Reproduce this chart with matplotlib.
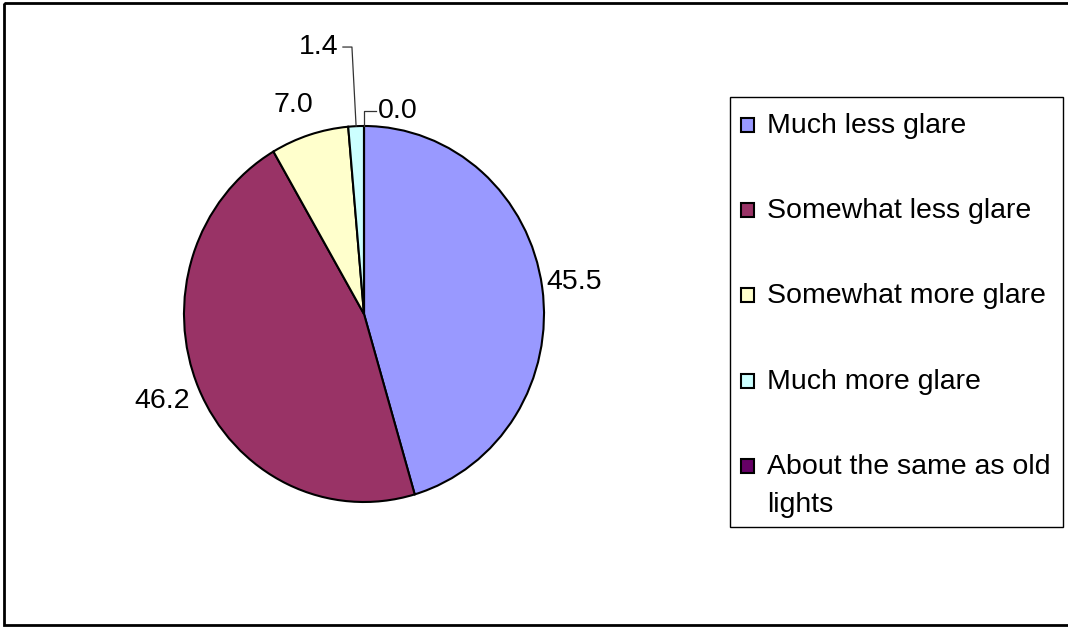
import numpy as np
import matplotlib
matplotlib.use("Agg")
import matplotlib.pyplot as plt
from matplotlib.patches import Rectangle

plt.rcParams['font.family'] = ['Liberation Sans', 'DejaVu Sans']

# Respuestas sobre el deslumbramiento de las luces nuevas
categorias = ['Much less glare', 'Somewhat less glare', 'Somewhat more glare',
              'Much more glare', 'About the same as old\nlights']
valores = [45.5, 46.2, 7.0, 1.4, 0.0]
colores = ['#9999FF', '#993366', '#FFFFCC', '#CCFFFF', '#660066']

# posiciones de las etiquetas (unidades del radio) y si llevan linea guia
pos_etiquetas = [(1.17, 0.17), (-1.12, -0.465), (-0.394, 1.11), (-0.144, 1.42), (0.078, 1.08)]
alineacion = ['center', 'center', 'center', 'right', 'left']
con_guia = [False, False, False, True, True]

W, H = 1068, 627
fig = plt.figure(figsize=(W / 100, H / 100), dpi=100)

# capa en pixeles para el marco y la leyenda
capa = fig.add_axes([0, 0, 1, 1])
capa.set_xlim(0, W)
capa.set_ylim(H, 0)
capa.axis('off')
capa.add_patch(Rectangle((4, 3), 1070, 622, fill=False, edgecolor='black', lw=2.0))

# el grafico de tarta (centro 364,314 px; radio 180 x 188 px)
cx, cy, rx, ry = 364, 314, 180, 188
ax = fig.add_axes([(cx - rx) / W, (H - cy - ry) / H, 2 * rx / W, 2 * ry / H])
cunas, _ = ax.pie(valores, colors=colores, startangle=90, counterclock=False,
                  wedgeprops=dict(edgecolor='black', linewidth=1.5))
ax.set_aspect('auto')
ax.set_xlim(-1, 1)
ax.set_ylim(-1, 1)
ax.axis('off')

for cuna, v, (lx, ly), ha, guia in zip(cunas, valores, pos_etiquetas, alineacion, con_guia):
    ang = np.deg2rad((cuna.theta1 + cuna.theta2) / 2)
    ax.text(lx, ly, f'{v:.1f}', ha=ha, va='center', fontsize=20.5, clip_on=False)
    if guia:
        bx, by = np.cos(ang), np.sin(ang)
        codo = lx + (0.077 if ha == 'right' else -0.078)
        fin = lx + (0.027 if ha == 'right' else -0.011)
        ax.plot([bx, codo, fin], [by, ly, ly], color='#333333', lw=0.9, clip_on=False)

# leyenda
capa.add_patch(Rectangle((730, 97), 333, 430, fill=False, edgecolor='black', lw=1.0))
filas = [125, 210, 295, 381, 466]
for nombre, color, y in zip(categorias, colores, filas):
    capa.add_patch(Rectangle((741, y - 7), 13, 14, facecolor=color, edgecolor='black', lw=1.5))
    for i, linea in enumerate(nombre.split('\n')):
        capa.text(767, y + 8 + i * 38, linea, ha='left', va='baseline', fontsize=20.5)

fig.savefig('out.png', dpi=100)
